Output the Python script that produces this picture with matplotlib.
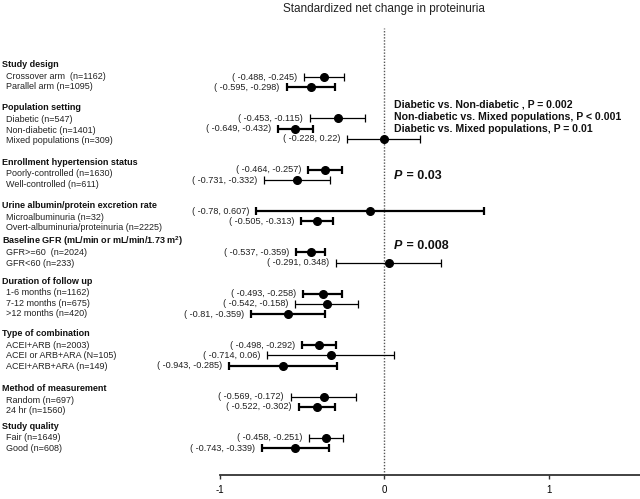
import matplotlib
matplotlib.use("Agg")
import matplotlib.pyplot as plt
import matplotlib.transforms as mtransforms

plt.rcParams['font.family'] = ['Liberation Sans', 'DejaVu Sans']
plt.rcParams['mathtext.fontset'] = 'custom'
plt.rcParams['mathtext.rm'] = 'Liberation Sans'
plt.rcParams['mathtext.bf'] = 'Liberation Sans:bold'

# groups and subgroup labels
groups = ["Study design", "Population setting", "Enrollment hypertension status",
          "Urine albumin/protein excretion rate",
          r"Baseline GFR (mL/min or mL/min/1.73 $\mathbf{m^{2}}$)",
          "Duration of follow up", "Type of combination",
          "Method of measurement", "Study quality"]
subgroups = [
    ["Crossover arm  (n=1162)", "Parallel arm (n=1095)"],
    ["Diabetic (n=547)", "Non-diabetic (n=1401)", "Mixed populations (n=309)"],
    ["Poorly-controlled (n=1630)", "Well-controlled (n=611)"],
    ["Microalbuminuria (n=32)", "Overt-albuminuria/proteinuria (n=2225)"],
    ["GFR>=60  (n=2024)", "GFR<60 (n=233)"],
    ["1-6 months (n=1162)", "7-12 months (n=675)", ">12 months (n=420)"],
    ["ACEI+ARB (n=2003)", "ACEI or ARB+ARA (N=105)", "ACEI+ARB+ARA (n=149)"],
    ["Random (n=697)", "24 hr (n=1560)"],
    ["Fair (n=1649)", "Good (n=608)"],
]

# effect estimates and 95% CI (flattened in row order)
est = [-0.366, -0.446,
       -0.284, -0.541, -0.004,
       -0.360, -0.531,
       -0.086, -0.409,
       -0.448, 0.029,
       -0.375, -0.350, -0.584,
       -0.395, -0.327, -0.614,
       -0.370, -0.412,
       -0.354, -0.541]
lo = [-0.488, -0.595,
      -0.453, -0.649, -0.228,
      -0.464, -0.731,
      -0.78, -0.505,
      -0.537, -0.291,
      -0.493, -0.542, -0.81,
      -0.498, -0.714, -0.943,
      -0.569, -0.522,
      -0.458, -0.743]
hi = [-0.245, -0.298,
      -0.115, -0.432, 0.22,
      -0.257, -0.332,
      0.607, -0.313,
      -0.359, 0.348,
      -0.258, -0.158, -0.359,
      -0.292, 0.06, -0.285,
      -0.172, -0.302,
      -0.251, -0.339]
# larger subgroups drawn with thicker lines
thick = [False, True,
         False, True, False,
         True, False,
         True, True,
         True, False,
         True, False, True,
         True, False, True,
         False, True,
         False, True]

# small vertical nudges of the left label column (as in original)
label_shift = [-0.1, 0.1, 0.4, 0.6, 0.03, -0.1, 0.0, 0.35, -0.05]

fig = plt.figure(figsize=(6.4, 4.99), dpi=100)
ax = fig.add_axes([0, 0.0481, 1, 0.8958])

# row positions
rows = []
group_start = []
y = 0
for g in subgroups:
    group_start.append(y)
    for s in g:
        rows.append(y)
        y += 1
    y += 2

px = 164.3  # pixels per unit
ax.set_xlim(-1 - 220 / px, (640 - 384.3) / px)
ax.set_ylim(38.6, -4.76)

ax.axvline(0, color='#555555', linestyle=(0, (1, 1.2)), linewidth=1, zorder=1)

for i in range(len(est)):
    lw = 1.6 if thick[i] else 0.9
    ax.errorbar(est[i], rows[i], xerr=[[est[i] - lo[i]], [hi[i] - est[i]]],
                fmt='o', color='black', markersize=5.5, elinewidth=lw,
                capsize=3, capthick=lw, zorder=3)
    ax.annotate(f"( {lo[i]}, {hi[i]})", xy=(lo[i], rows[i]), xytext=(-5, 0),
                textcoords='offset points', ha='right', va='center',
                fontsize=6.6, color='#222222')

trans = mtransforms.blended_transform_factory(ax.transAxes, ax.transData)
for gi, g in enumerate(groups):
    y0 = group_start[gi] + label_shift[gi]
    ax.text(1.5 / 640, y0 - 1.1, g, transform=trans, fontsize=6.5,
            fontweight='bold', va='center', ha='left', color='#111111')
    for j, s in enumerate(subgroups[gi]):
        ax.text(5.5 / 640, y0 + j * 1.04, s, transform=trans, fontsize=6.5,
                va='center', ha='left', color='#222222')

# comparison annotations
comparisons = ["Diabetic vs. Non-diabetic , P = 0.002",
               "Non-diabetic vs. Mixed populations, P < 0.001",
               "Diabetic vs. Mixed populations, P = 0.01"]
for j, c in enumerate(comparisons):
    ax.text(0.06, 2.62 + j * 1.22, c, fontsize=7.6, fontweight='bold',
            va='center', ha='left', color='#111111')

for yy, pv in [(9.56, " = 0.03"), (16.4, " = 0.008")]:
    t = ax.text(0.06, yy, "P", fontsize=9, fontweight='bold', style='italic',
                va='center', ha='left', color='#111111')
    ax.annotate(pv, xy=(1, 0), xycoords=t, va='bottom', ha='left',
                fontsize=9, fontweight='bold', color='#111111')

# axis
for sp in ['top', 'right', 'left']:
    ax.spines[sp].set_visible(False)
ax.spines['bottom'].set_bounds(-1, ax.get_xlim()[1])
ax.spines['bottom'].set_linewidth(1.3)
ax.spines['bottom'].set_color('#333333')
ax.set_yticks([])
ax.set_xticks([-1, 0, 1])
ax.set_xticklabels(['-1', '0', '1'], fontsize=7)
ax.tick_params(axis='x', length=3, width=1, color='#333333', pad=4)

fig.text(384.3 / 640, 1 - 9 / 499, "Standardized net change in proteinuria",
         ha='center', va='center', fontsize=8.5, color='#222222')

fig.savefig("out.png", dpi=100)
